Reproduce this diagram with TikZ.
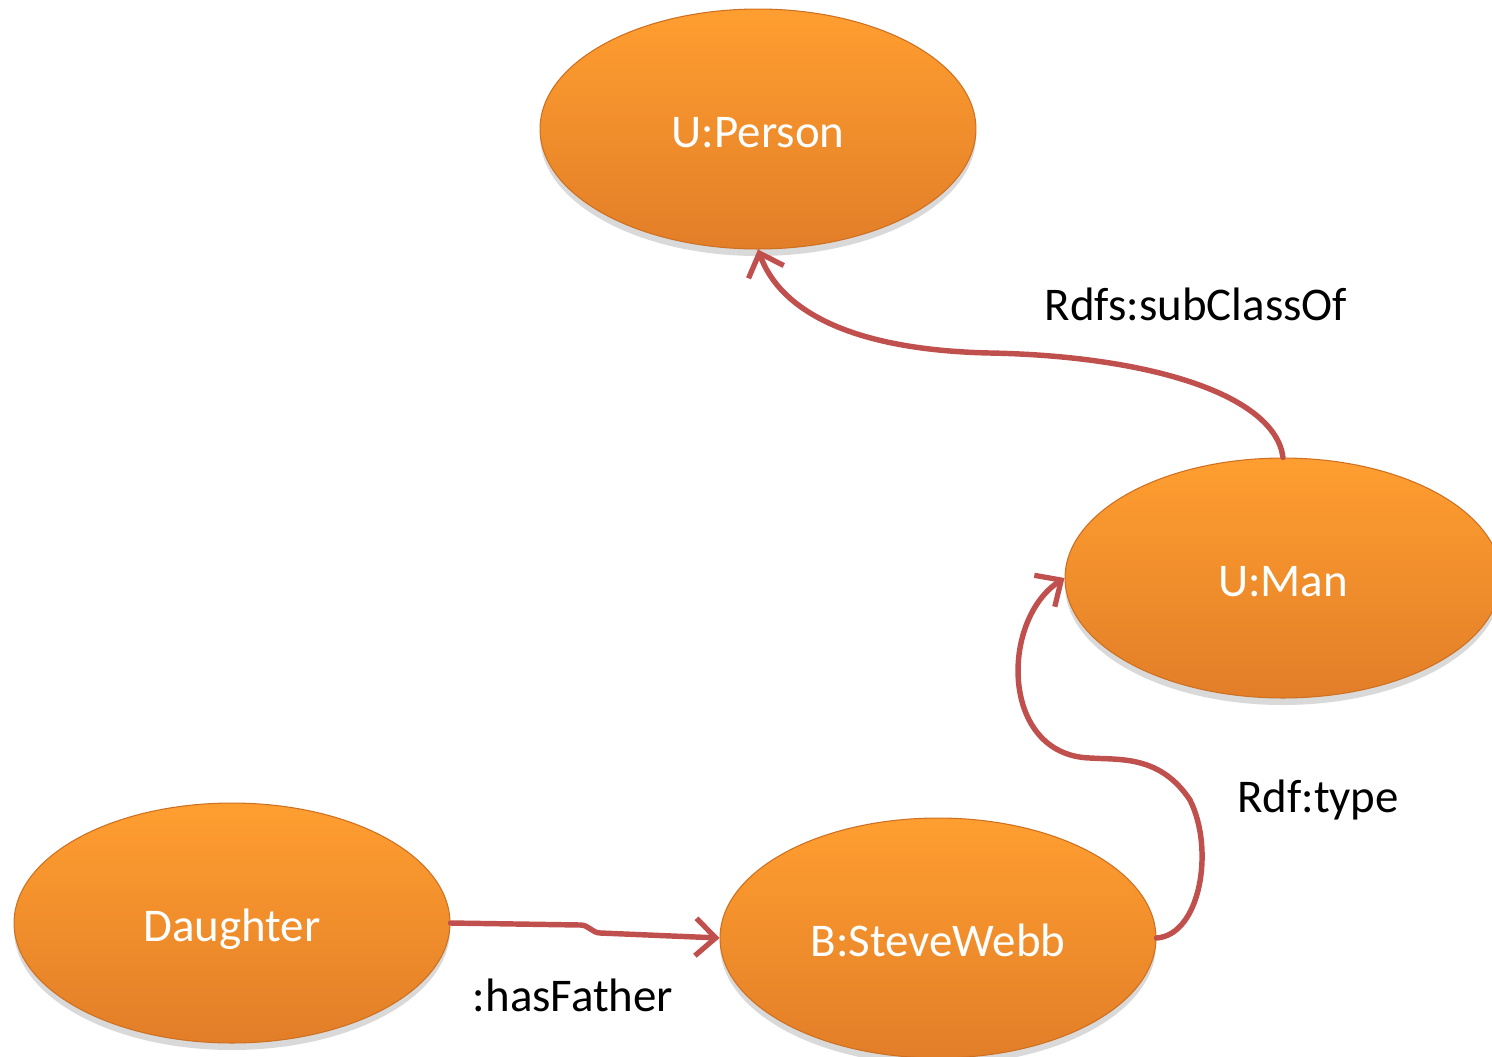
\documentclass[tikz,border=0pt]{standalone}
\usepackage{fontspec}
\setmainfont{Carlito}
\usetikzlibrary{arrows.meta,shapes.geometric,shadows}
\definecolor{orangetop}{RGB}{255,158,48}
\definecolor{orangebot}{RGB}{226,126,40}
\definecolor{orangeedge}{RGB}{206,112,34}
\definecolor{linkred}{RGB}{192,80,77}

\begin{document}
\begin{tikzpicture}[x=0.02cm, y=0.02cm, font=\fontsize{26.7}{32}\selectfont,
  cls/.style={ellipse, draw=orangeedge, line width=0.6pt, top color=orangetop, bottom color=orangebot,
    minimum width=8.72cm, minimum height=4.8cm, text=white, inner sep=0pt,
    text height=26pt, text depth=5.5pt,
    drop shadow={shadow xshift=0pt, shadow yshift=-4pt, opacity=0.25, fill=black!60}},
  arr/.style={-{Straight Barb[length=4mm, width=7.5mm, line width=3pt]}, draw=linkred, line width=3.1pt, line cap=round},
  lbl/.style={text=black, inner sep=0pt}]
\useasboundingbox (0,0) rectangle (1492,-1056);
\node[cls] (person) at (758,-129) {U:Person};
\node[cls] (man) at (1283,-578) {U:Man};
\node[cls] (daughter) at (232,-923) {Daughter};
\node[cls] (steve) at (938,-938) {B:SteveWebb};
% rdfs:subClassOf, U:Man up to U:Person
\draw[arr] (man.north) .. controls (1275,-395) and (1150,-356) .. (990,-353)
  .. controls (850,-350) and (780,-310) .. (person.south);
\node[lbl] (sublbl) at (1196,-304) {Rdfs:subClassOf};
% rdf:type, B:SteveWebb round to U:Man
\draw[arr] (steve.east) .. controls (1200,-935) and (1215,-850) .. (1190,-800)
  .. controls (1160,-755) and (1120,-760) .. (1090,-758)
  .. controls (1000,-755) and (1000,-620) .. (man.west);
\node[lbl] (typelbl) at (1318,-800) {Rdf:type};
% :hasFather
\draw[arr] (daughter.east) -- ++(130,-2) to[out=0, in=180] ++(20,-8) -- (steve.west);
\node[lbl] (fatherlbl) at (573,-995) {:hasFather};
\end{tikzpicture}
\end{document}
